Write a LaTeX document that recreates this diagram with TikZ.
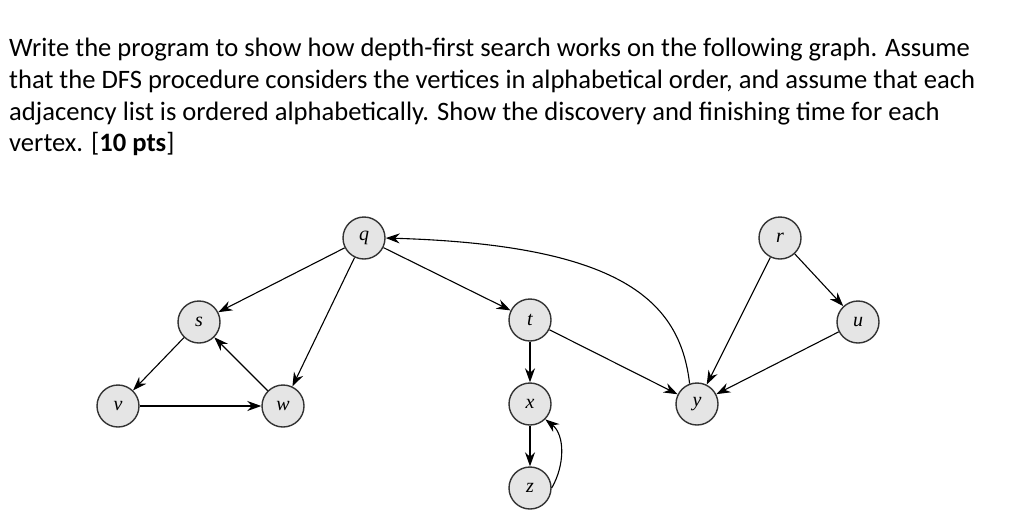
\documentclass[tikz,border=0pt]{standalone}
\usepackage{fontspec}
\setmainfont{Carlito}
\usetikzlibrary{arrows.meta}
\begin{document}
\begin{tikzpicture}[x=1pt,y=-1pt,
 vtx/.style={circle,draw=black!80,line width=1.4pt,fill=black!10,minimum size=42pt,inner sep=0pt,font=\fontspec{Liberation Serif}\itshape\fontsize{20}{20}\selectfont},
 ln/.style={anchor=base west,inner sep=0pt,font=\fontsize{26.6}{30}\selectfont},
 ar/.style={-{Stealth[length=14pt,width=10pt]},line width=1.1pt}]
\useasboundingbox (0,0) rectangle (1024,515);
\node[ln] (l1) at (9,56) {Write the program to show how depth-first search works on the following graph. Assume};
\node[ln] (l2) at (9,88) {that the DFS procedure considers the vertices in alphabetical order, and assume that each};
\node[ln] (l3) at (9,120) {adjacency list is ordered alphabetically. Show the discovery and finishing time for each};
\node[ln] (l4) at (9,151) {vertex. [\textbf{10 pts}]};
\node[vtx] (q) at (364,238) {q};
\node[vtx] (r) at (780,238) {r};
\node[vtx] (s) at (199,322) {s};
\node[vtx] (t) at (530,320) {t};
\node[vtx] (u) at (858,322) {u};
\node[vtx] (v) at (118,406) {v};
\node[vtx] (w) at (283,406) {w};
\node[vtx] (x) at (530,404) {x};
\node[vtx] (y) at (697,404) {y};
\node[vtx] (z) at (530,488) {z};
\draw[ar] (q) -- (s);
\draw[ar] (q) -- (w);
\draw[ar] (q) -- (t);
\draw[ar] (y.110) .. controls (680,300) and (620,245) .. (q.east);
\draw[ar] (r) -- (u);
\draw[ar] (r) -- (y);
\draw[ar] (u) -- (y);
\draw[ar] (t) -- (y);
\draw[ar] (s) -- (v);
\draw[ar] (w) -- (s);
\draw[ar] (v) -- (w);
\draw[ar] (t) -- (x);
\draw[ar] (x) -- (z);
\draw[ar] (z.east) .. controls (565,465) and (565,435) .. (x.south east);
\end{tikzpicture}
\end{document}
